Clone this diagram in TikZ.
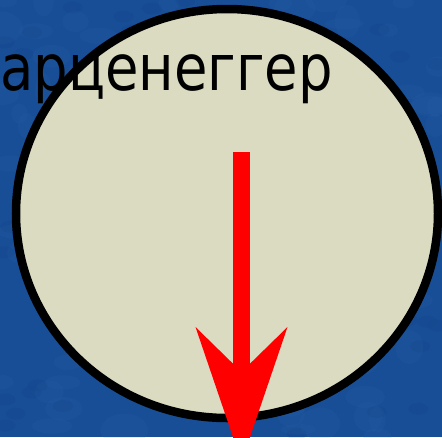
\documentclass[tikz,border=0pt]{standalone}
\usepackage{fontspec}
\newfontfamily\namefont[FakeStretch=0.85]{DejaVu Sans}
\usetikzlibrary{shapes.geometric,arrows.meta}
\definecolor{bgblue}{RGB}{24,78,150}
\definecolor{bgspot}{RGB}{50,105,175}
\definecolor{bgdark}{RGB}{14,60,128}
\definecolor{discbeige}{RGB}{219,219,194}
\definecolor{arrowred}{RGB}{255,0,0}
\tikzset{
  disc/.style={draw=black, line width=8.5pt, fill=discbeige, ellipse, inner sep=0pt, minimum width=422pt, minimum height=409pt},
  namelbl/.style={inner sep=0pt, anchor=base west, text=black, font=\namefont\fontsize{64}{64}\selectfont},
  fallarrow/.style={draw=arrowred, line width=17pt, -{Stealth[length=135pt, width=92pt, inset=45pt, line width=0pt]}}
}

\begin{document}
\begin{tikzpicture}[x=1pt, y=-1pt]
  % background
  \useasboundingbox (0,0) rectangle (442,437);
  \clip (0,0) rectangle (442,437);
  \fill[bgblue] (0,0) rectangle (442,437);
  \pgfmathsetseed{11}
  \foreach \i in {1,...,160} {
    \pgfmathsetmacro{\px}{rnd*442}
    \pgfmathsetmacro{\py}{rnd*437}
    \pgfmathsetmacro{\rx}{8+rnd*16}
    \pgfmathsetmacro{\ry}{5+rnd*12}
    \fill[bgspot, opacity=0.12] (\px,\py) ellipse [x radius=\rx, y radius=\ry];
  }
  \foreach \i in {1,...,80} {
    \pgfmathsetmacro{\px}{rnd*442}
    \pgfmathsetmacro{\py}{rnd*437}
    \fill[bgdark, opacity=0.12] (\px,\py) ellipse [x radius=10, y radius=6];
  }

  \node[disc] (disc) at (227,213.5) {};
  \node[namelbl] (name) at (0,90) {арценеггер};

  \coordinate (arrowstart) at (241.5,152);
  \coordinate (arrowtip) at (241.5,462);
  \draw[fallarrow] (arrowstart) -- (arrowtip);
\end{tikzpicture}
\end{document}
